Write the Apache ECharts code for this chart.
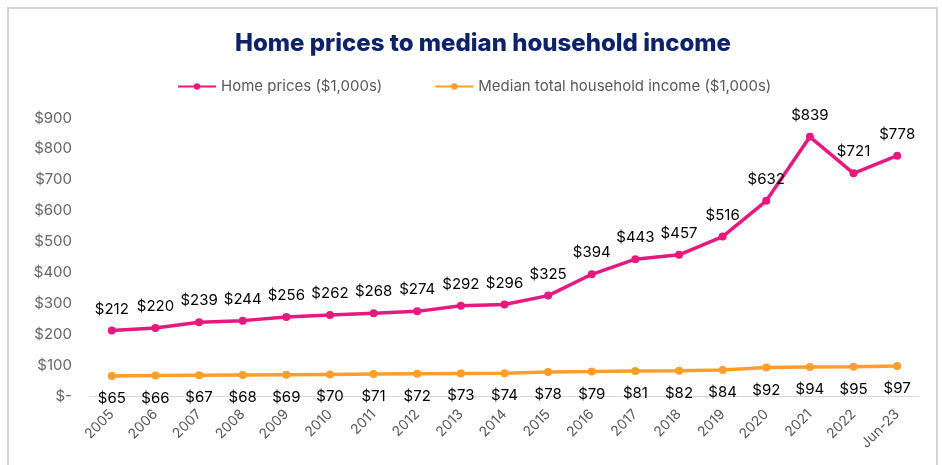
<!DOCTYPE html>
<html>
<head>
<meta charset="utf-8">
<script src="https://cdn.jsdelivr.net/npm/echarts@6/dist/echarts.min.js"></script>
<style>
  html, body { margin: 0; padding: 0; background: #fff; }
  #frame { position: absolute; left: 7px; top: 7px; width: 931px; height: 470px; border: 2px solid #d4d4d4; box-sizing: border-box; }
  #main { position: absolute; left: 0; top: 0; width: 942px; height: 465px; }
</style>
</head>
<body>
<div id="frame"></div>
<div id="main"></div>
<script>
// categories + values
var years = ['2005','2006','2007','2008','2009','2010','2011','2012','2013','2014',
             '2015','2016','2017','2018','2019','2020','2021','2022','Jun-23'];
var homePrices = [212,220,239,244,256,262,268,274,292,296,325,394,443,457,516,632,839,721,778];
var householdIncome = [65,66,67,68,69,70,71,72,73,74,78,79,81,82,84,92,94,95,97];
var yTicks = [0,100,200,300,400,500,600,700,800,900];

var pink = '#E6197E', orange = '#FF9E2C';
var font = 'Inter';

var myChart = echarts.init(document.getElementById('main'));

function money(v){
    return v === 0 ? '$-' : '$' + v;
}

var option = {
    textStyle: { fontFamily: font },
    title: {
        text: 'Home prices to median household income',
        left: 230,
        top: 27,
        textStyle: { fontSize: 24, fontWeight: 800, color: '#0E2367', fontFamily: font }
    },
    legend: {
        top: 74,
        left: 172,
        itemWidth: 38,
        itemHeight: 8,
        itemGap: 52,
        textStyle: { fontSize: 15, color: '#595959', fontFamily: font },
        data: ['Home prices ($1,000s)', 'Median total household income ($1,000s)']
    },
    grid: { left: 90, right: 23, top: 118, bottom: 69 },
    xAxis: {
        type: 'category',
        data: years,
        axisTick: { show: false },
        axisLine: { lineStyle: { color: '#d9d9d9', width: 1 } },
        axisLabel: { rotate: 45, color: '#595959', fontSize: 14, margin: 16, fontFamily: font }
    },
    yAxis: {
        type: 'value',
        min: yTicks[0],
        max: yTicks[yTicks.length - 1],
        interval: 100,
        splitLine: { show: false },
        axisLine: { show: false },
        axisTick: { show: false },
        axisLabel: { color: '#666', fontSize: 15, margin: 18, formatter: money, fontFamily: font }
    },
    series: [
        {
            name: 'Home prices ($1,000s)',
            type: 'line',
            data: homePrices,
            symbol: 'circle',
            symbolSize: 8,
            itemStyle: { color: pink },
            lineStyle: { color: pink, width: 3.5 },
            label: { show: true, position: 'top', distance: 10, color: '#000', fontSize: 15,
                     formatter: function(p){ return money(p.value); } }
        },
        {
            name: 'Median total household income ($1,000s)',
            type: 'line',
            data: householdIncome,
            symbol: 'circle',
            symbolSize: 8,
            itemStyle: { color: orange },
            lineStyle: { color: orange, width: 3.5 },
            label: { show: true, position: 'bottom', distance: 11, color: '#000', fontSize: 15,
                     formatter: function(p){ return money(p.value); } }
        }
    ]
};

myChart.setOption(option);
</script>
</body>
</html>
